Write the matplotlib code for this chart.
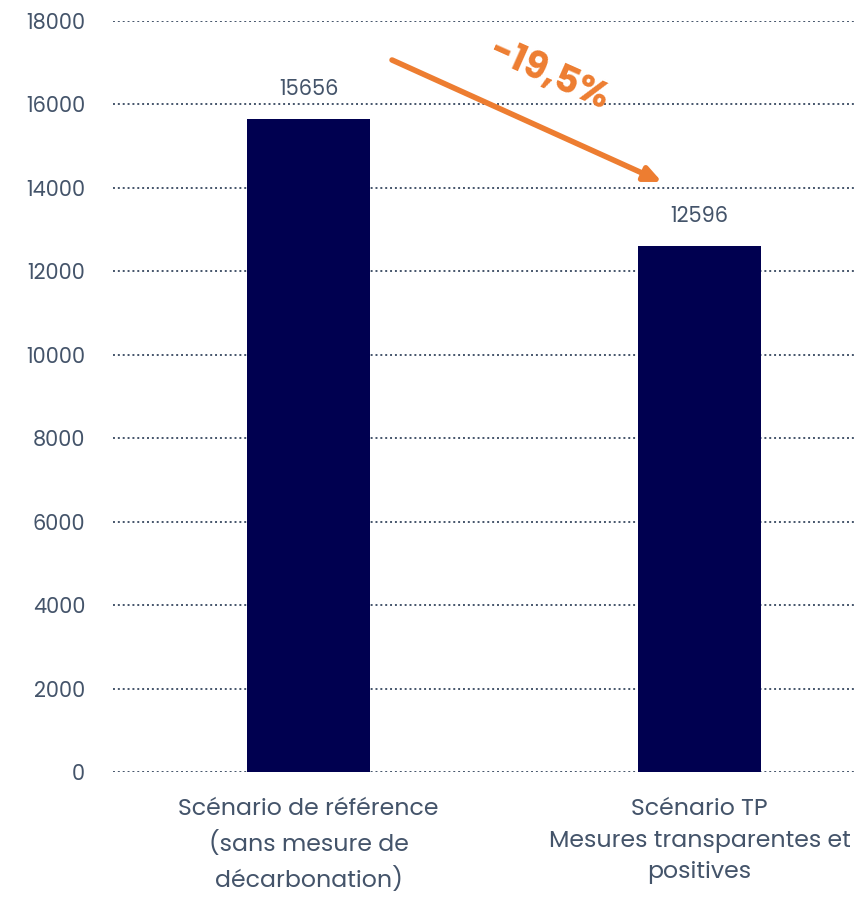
import matplotlib.pyplot as plt
import numpy as np

# Data
categories = ['Scénario de référence\n(sans mesure de\ndécarbonation)',
              'Scénario TP\nMesures transparentes et\npositives']
values = [15656, 12596]
yticks = [0, 2000, 4000, 6000, 8000, 10000, 12000, 14000, 16000, 18000]
change_label = '-19,5%'

text_col = '#44546A'
bar_col = '#000050'
orange = '#ED7D31'

plt.rcParams['font.family'] = ['Poppins', 'Lato', 'DejaVu Sans']

fig = plt.figure(figsize=(8.56, 8.99), dpi=100)
ax = fig.add_axes([0.132, 0.1413, 0.9136, 0.8353])

x = np.arange(len(values))
bars = ax.bar(x, values, width=0.315, color=bar_col, zorder=3)
for xi, v in zip(x, values):
    ax.annotate(str(v), (xi, v), xytext=(0, 21), textcoords='offset points',
                ha='center', va='center', fontsize=15, color=text_col)

ax.set_xlim(-0.5, 1.5)
ax.set_ylim(0, 18000)
ax.set_yticks(yticks)
ax.set_yticklabels([str(t) for t in yticks])
ax.set_xticks(x)
ax.set_xticklabels(categories, fontsize=17, color=text_col, linespacing=1.48)
ax.tick_params(axis='y', length=0, pad=20, labelsize=15, labelcolor=text_col)
ax.tick_params(axis='x', length=0, pad=19)
ax.yaxis.grid(True, linestyle=(0, (1, 1.5)), color=text_col, linewidth=1.4, zorder=0)
ax.set_axisbelow(True)
for s in ax.spines.values():
    s.set_visible(False)

# arrow showing the decrease
ax.annotate('', xy=(0.904, 14142), xytext=(0.2136, 17066),
            arrowprops=dict(arrowstyle='-|>,head_length=1.0,head_width=0.45',
                            color=orange, lw=4, shrinkA=0, shrinkB=0), zorder=5)
ax.text(0.613, 16680, change_label, rotation=-24, rotation_mode='anchor',
        ha='center', va='center', fontsize=27, fontweight='bold', color=orange)

fig.savefig('out.png', dpi=100)
